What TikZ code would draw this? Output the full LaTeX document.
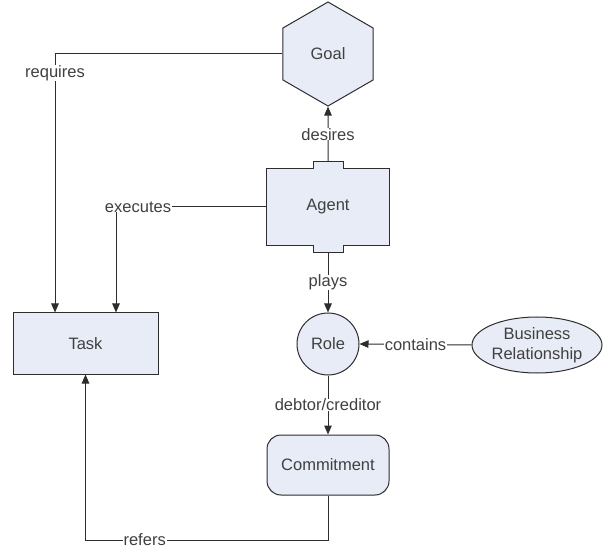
\documentclass[tikz,border=0pt]{standalone}
\usepackage{fontspec}
\setmainfont{Liberation Sans}
\usetikzlibrary{shapes.geometric,arrows.meta}
\definecolor{boxfill}{RGB}{232,236,247}
\definecolor{edge}{RGB}{45,45,45}
\definecolor{ink}{RGB}{64,64,64}
\tikzset{
  x=1pt, y=-1pt,
  every node/.style={font=\fontsize{16.5}{20}\selectfont, text=ink},
  shp/.style={draw=edge, fill=boxfill, line width=1pt},
  conn/.style={draw=edge, line width=1pt},
  arr/.style={conn, -{Triangle[length=9pt,width=7.5pt]}},
  lbl/.style={fill=white, inner xsep=1pt, inner ysep=0pt},
}
\begin{document}
\begin{tikzpicture}
\useasboundingbox (0,0) rectangle (603,548);

% nodes
\node[shp, regular polygon, regular polygon sides=6, shape border rotate=30,
      minimum size=104pt, inner sep=0pt] (goal) at (328,54) {Goal};
\node[minimum width=122pt, minimum height=76pt, inner sep=0pt] (agent) at (328,207) {};
\draw[shp] (agent.north west) -- ([xshift=-15pt]agent.north) -- ++(0,-7) -- ++(30,0)
  -- ([xshift=15pt]agent.north) -- (agent.north east) -- (agent.south east)
  -- ([xshift=15pt]agent.south) -- ++(0,7) -- ++(-30,0) -- ([xshift=-15pt]agent.south)
  -- (agent.south west) -- cycle;
\node at (agent) {Agent};
\node[shp, minimum width=145pt, minimum height=61pt] (task) at (85.5,343.5) {Task};
\node[shp, circle, minimum size=62pt, inner sep=0pt] (role) at (328,344) {Role};
\node[shp, ellipse, minimum width=130pt, minimum height=56pt, inner sep=0pt, align=center]
  (biz) at (537,345) {Business\\Relationship};
\node[shp, rounded corners=14pt, minimum width=122pt, minimum height=60pt] (commit) at (328,465) {Commitment};

% connectors
\draw[arr] ([yshift=7pt]agent.north) -- node[lbl] (ldes) {desires} (goal.south);
\draw[arr] ([yshift=-7pt]agent.south) -- node[lbl] (lplays) {plays} (role.north);
\draw[arr] (role.south) -- node[lbl] (ldebt) {debtor/creditor} (commit.north);
\draw[arr] (biz.west) -- node[lbl] (lcont) {contains} (role.east);
\draw[arr] (goal.west) -| node[lbl, pos=0.537] (lreq) {requires} ([xshift=-30.5pt]task.north);
\draw[arr] (agent.west) -| node[lbl, pos=0.427] (lexe) {executes} ([xshift=30.5pt]task.north);
\coordinate (rcorner) at (328,540);
\draw[arr] (commit.south) -- (rcorner) -| node[lbl, pos=0.378] (lref) {refers} (task.south);
\end{tikzpicture}
\end{document}
